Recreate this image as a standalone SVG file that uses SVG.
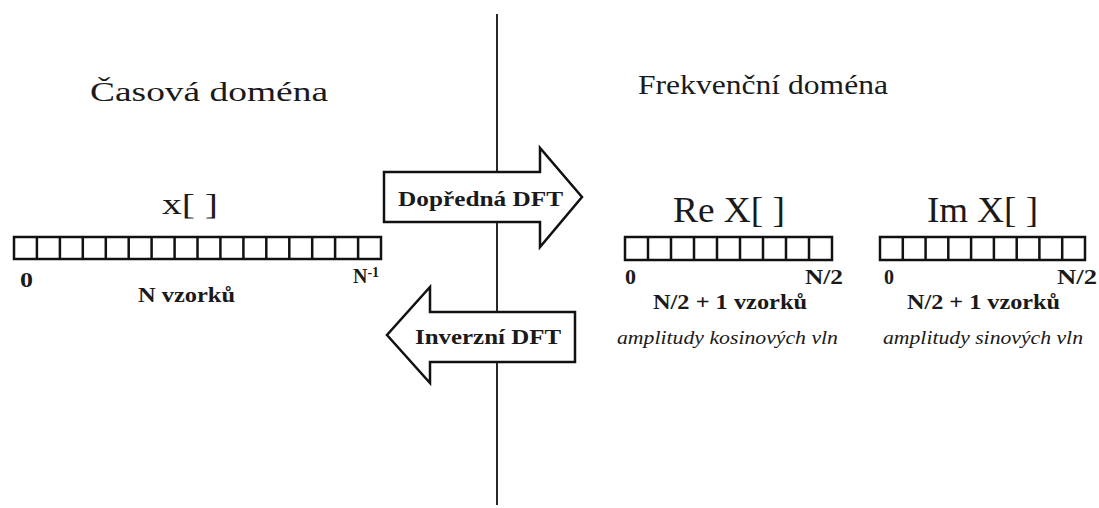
<svg xmlns="http://www.w3.org/2000/svg" width="1099" height="508" viewBox="0 0 1099 508">
<defs>
<style>
.title{font-size:28px}
.arr{font-size:29px}
.big{font-size:36px}
.lbl{font-size:20px;font-weight:bold}
.it{font-size:18px;font-style:italic}
.cell{fill:#fff;stroke:#111;stroke-width:2.5}
.shape{fill:#fff;stroke:#111;stroke-width:2.5;stroke-linejoin:miter}
</style>
</defs>
<rect width="1099" height="508" fill="#fff"/>
<g id="divider"><line x1="497" y1="14" x2="497" y2="505" stroke="#111" stroke-width="1.8"/></g>
<g font-family="Liberation Serif, Times New Roman, serif" fill="#1a1a1a">
<g id="time-title"><text class="title" x="90" y="101" textLength="238" lengthAdjust="spacingAndGlyphs">Časová doména</text></g>
<g id="freq-title"><text class="title" x="638" y="94" textLength="250" lengthAdjust="spacingAndGlyphs">Frekvenční doména</text></g>
<g id="x-array">
<text class="arr" x="162" y="214" textLength="56" lengthAdjust="spacingAndGlyphs">x[  ]</text>
<rect class="cell" x="14" y="237" width="367" height="22"/>
<path d="M36.9 237V259M59.9 237V259M82.8 237V259M105.8 237V259M128.7 237V259M151.6 237V259M174.6 237V259M197.5 237V259M220.4 237V259M243.4 237V259M266.3 237V259M289.3 237V259M312.2 237V259M335.1 237V259M358.1 237V259" stroke="#111" stroke-width="2.5"/>
<text class="lbl" x="20" y="287" textLength="13" lengthAdjust="spacingAndGlyphs">0</text>
<text class="lbl" x="353" y="283">N<tspan font-size="14" dy="-6">-1</tspan></text>
<text class="lbl" x="138" y="302" textLength="97" lengthAdjust="spacingAndGlyphs">N vzorků</text>
</g>
<g id="re-array">
<text class="big" x="673" y="222" textLength="112" lengthAdjust="spacingAndGlyphs">Re X[  ]</text>
<rect class="cell" x="625" y="237" width="207" height="23"/>
<path d="M648 237V260M671 237V260M694 237V260M717 237V260M740 237V260M763 237V260M786 237V260M809 237V260" stroke="#111" stroke-width="2.5"/>
<text class="lbl" x="625" y="284" textLength="11" lengthAdjust="spacingAndGlyphs">0</text>
<text class="lbl" x="805" y="284" textLength="38" lengthAdjust="spacingAndGlyphs">N/2</text>
<text class="lbl" x="653" y="309" textLength="154" lengthAdjust="spacingAndGlyphs">N/2 + 1 vzorků</text>
<text class="it" x="617" y="344" textLength="221" lengthAdjust="spacingAndGlyphs">amplitudy kosinových vln</text>
</g>
<g id="im-array">
<text class="big" x="927" y="222" textLength="111" lengthAdjust="spacingAndGlyphs">Im X[  ]</text>
<rect class="cell" x="880" y="237" width="205" height="23"/>
<path d="M902.8 237V260M925.6 237V260M948.3 237V260M971.1 237V260M993.9 237V260M1016.7 237V260M1039.4 237V260M1062.2 237V260" stroke="#111" stroke-width="2.5"/>
<text class="lbl" x="884" y="284" textLength="10" lengthAdjust="spacingAndGlyphs">0</text>
<text class="lbl" x="1057" y="284" textLength="40" lengthAdjust="spacingAndGlyphs">N/2</text>
<text class="lbl" x="907" y="309" textLength="153" lengthAdjust="spacingAndGlyphs">N/2 + 1 vzorků</text>
<text class="it" x="883" y="344" textLength="200" lengthAdjust="spacingAndGlyphs">amplitudy sinových vln</text>
</g>
<g id="forward-dft">
<path class="shape" d="M384 172H540V148L582 197L540 247V222H384Z"/>
<text class="lbl" x="398" y="206" textLength="165" lengthAdjust="spacingAndGlyphs">Dopředná  DFT</text>
</g>
<g id="inverse-dft">
<path class="shape" d="M575 312H430V287L387 335L430 383V362H575Z"/>
<text class="lbl" x="415" y="344" textLength="146" lengthAdjust="spacingAndGlyphs">Inverzní  DFT</text>
</g>
</g>
</svg>
